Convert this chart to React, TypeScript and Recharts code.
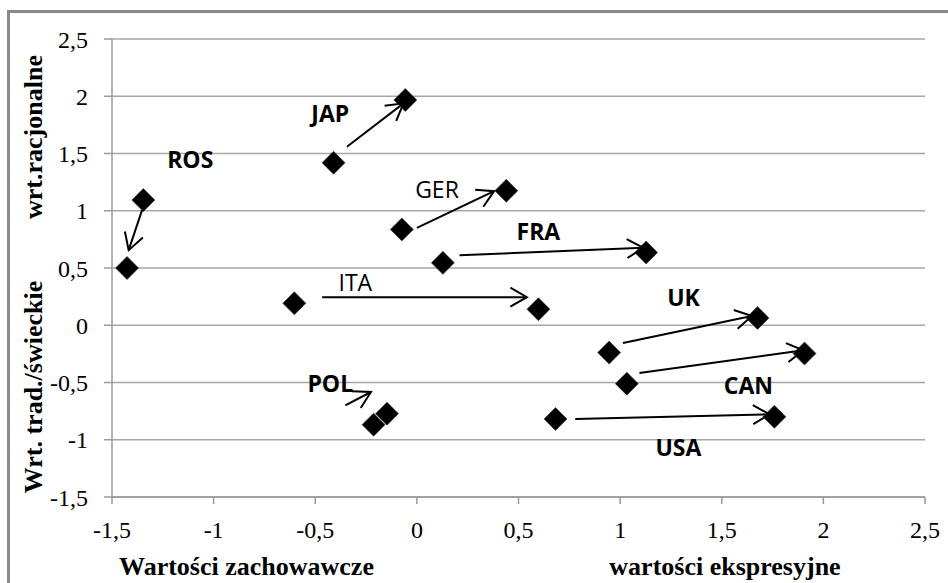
import { ScatterChart, Scatter, XAxis, YAxis, CartesianGrid, ReferenceLine } from 'recharts'

const countries = ['ROS', 'JAP', 'GER', 'FRA', 'ITA', 'UK', 'CAN', 'USA', 'POL']
const startX = [-1.346, -0.41, -0.074, 0.128, -0.603, 0.946, 1.033, 0.682, -0.213]
const startY = [1.093, 1.419, 0.837, 0.545, 0.192, -0.239, -0.51, -0.819, -0.868]
const endX = [-1.426, -0.057, 0.44, 1.128, 0.598, 1.676, 1.907, 1.759, -0.147]
const endY = [0.5, 1.967, 1.175, 0.635, 0.14, 0.064, -0.247, -0.8, -0.772]

// arrows are drawn a bit apart from the markers, like in the original sheet
const arrowFromX = [-1.352, -0.344, 0.0, 0.21, -0.466, 1.014, 1.095, 0.779, -0.352]
const arrowFromY = [1.005, 1.559, 0.851, 0.612, 0.245, -0.155, -0.417, -0.819, -0.699]
const arrowToX = [-1.418, -0.066, 0.38, 1.115, 0.541, 1.648, 1.902, 1.735, -0.226]
const arrowToY = [0.656, 1.938, 1.171, 0.676, 0.245, 0.081, -0.219, -0.778, -0.583]

const labelX = [-1.115, -0.426, 0.099, 0.598, -0.303, 1.312, 1.631, 1.287, -0.426]
const labelY = [1.442, 1.85, 1.18, 0.816, 0.37, 0.242, -0.524, -1.069, -0.51]
const labelBold = [true, true, false, true, false, true, true, true, true]

const ticks = [-1.5, -1, -0.5, 0, 0.5, 1, 1.5, 2, 2.5]

const points = countries.flatMap((c, i) => [
  { name: c, x: startX[i], y: startY[i] },
  { name: c, x: endX[i], y: endY[i] },
])
const labels = countries.map((c, i) => ({ name: c, x: labelX[i], y: labelY[i], bold: labelBold[i] }))

const fmt = (v: number) => String(v).replace('.', ',')
const serif = 'Liberation Serif'

const Diamond = (p: any) => {
  const { cx, cy } = p
  const r = 11.5
  return <polygon points={`${cx},${cy - r} ${cx + r},${cy} ${cx},${cy + r} ${cx - r},${cy}`} fill="#000" stroke="#333" strokeWidth={0.6} />
}

const Tag = (p: any) => (
  <text x={p.cx} y={p.cy} dy="0.36em" textAnchor="middle" fontFamily="Open Sans" fontSize={23}
    fontWeight={p.payload.bold ? 700 : 400} fill="#000">{p.payload.name}</text>
)

const Arrow = (p: any) => {
  const { x1, y1, x2, y2 } = p
  const a = Math.atan2(y2 - y1, x2 - x1)
  const L = 19, w = Math.PI / 6
  const ax = x2 - L * Math.cos(a - w), ay = y2 - L * Math.sin(a - w)
  const bx = x2 - L * Math.cos(a + w), by = y2 - L * Math.sin(a + w)
  return (
    <g>
      <line x1={x1} y1={y1} x2={x2} y2={y2} stroke="#000" strokeWidth={2} />
      <polyline points={`${ax},${ay} ${x2},${y2} ${bx},${by}`} fill="none" stroke="#000" strokeWidth={2} />
    </g>
  )
}

const tickStyle = { fontFamily: serif, fontSize: 24, fill: '#000' }

export default function App() {
  return (
    <div style={{ position: 'fixed', left: 0, top: 0, width: 948, height: 583, overflow: 'hidden', background: '#fff' }}>
      <div style={{ position: 'absolute', left: 7, top: 10, width: 1000, height: 1000, border: '3px solid #8a8a8a' }} />
      <div style={{ position: 'absolute', left: 0, top: 0 }}>
        <ScatterChart width={948} height={583} margin={{ top: 39, right: 23, left: 0, bottom: 0 }}>
          <CartesianGrid vertical={false} stroke="#a6a6a6" strokeWidth={1.5} />
          <XAxis type="number" dataKey="x" domain={[-1.5, 2.5]} ticks={ticks} tickFormatter={fmt} height={86}
            axisLine={{ stroke: '#9a9a9a', strokeWidth: 1.5 }} tickLine={{ stroke: '#9a9a9a', strokeWidth: 1.5 }}
            tickSize={7} tickMargin={17} tick={tickStyle} interval={0} allowDataOverflow />
          <YAxis type="number" dataKey="y" domain={[-1.5, 2.5]} ticks={ticks} tickFormatter={fmt} width={112}
            axisLine={{ stroke: '#9a9a9a', strokeWidth: 1.5 }} tickLine={{ stroke: '#9a9a9a', strokeWidth: 1.5 }}
            tickSize={8} tickMargin={16} tick={tickStyle} interval={0} allowDataOverflow />
          {countries.map((c, i) => (
            <ReferenceLine key={c} segment={[{ x: arrowFromX[i], y: arrowFromY[i] }, { x: arrowToX[i], y: arrowToY[i] }]}
              shape={Arrow} ifOverflow="visible" />
          ))}
          <Scatter data={points} shape={Diamond} isAnimationActive={false} />
          <Scatter data={labels} shape={Tag} isAnimationActive={false} />
        </ScatterChart>
      </div>
      <svg width={948} height={583} style={{ position: 'absolute', left: 0, top: 0, pointerEvents: 'none' }}>
        <g fontFamily={serif} fontWeight={700} fontSize={26} fill="#000" textAnchor="middle">
          <text x={246.5} y={575}>Wartości zachowawcze</text>
          <text x={725} y={575}>wartości ekspresyjne</text>
          <text x={42} y={137} transform="rotate(-90, 42, 137)">wrt.racjonalne</text>
          <text x={42} y={387} transform="rotate(-90, 42, 387)">Wrt. trad./świeckie</text>
        </g>
      </svg>
    </div>
  )
}
